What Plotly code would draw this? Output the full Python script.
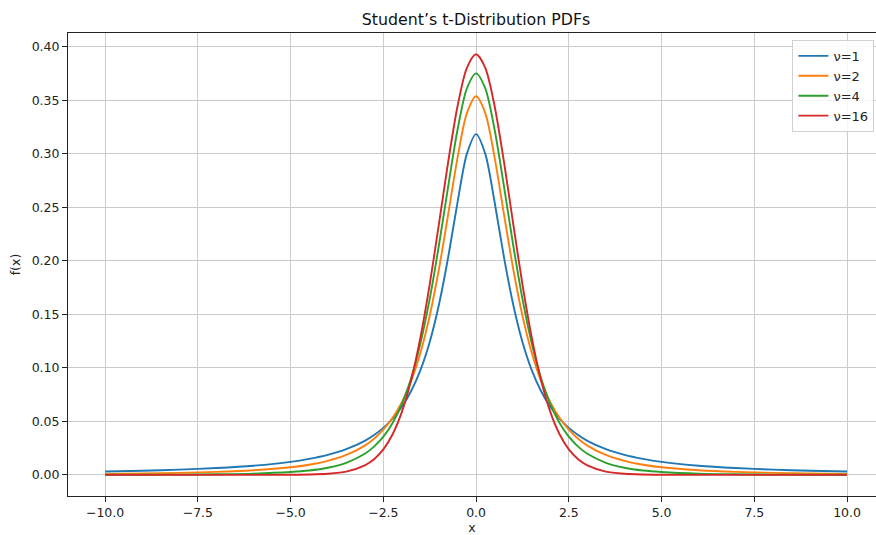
import plotly.graph_objects as go

x_vals = [-10, -9, -8, -7, -6, -5, -4.5, -4, -3.5, -3, -2.75, -2.5, -2.25, -2, -1.75, -1.5,
          -1.25, -1, -0.75, -0.5, -0.25, 0, 0.25, 0.5, 0.75, 1, 1.25, 1.5, 1.75, 2, 2.25,
          2.5, 2.75, 3, 3.5, 4, 4.5, 5, 6, 7, 8, 9, 10]

# one-sided values (x >= 0); mirrored for x < 0
half_nu1 = [0.3183, 0.2996, 0.2546, 0.2037, 0.1592, 0.1242, 0.0979, 0.0784, 0.0637, 0.0525,
            0.0439, 0.0372, 0.0318, 0.0240, 0.0187, 0.0150, 0.0122, 0.0086, 0.0064, 0.0049,
            0.0039, 0.0032]
half_nu2 = [0.3536, 0.3376, 0.2963, 0.2438, 0.1925, 0.1487, 0.1141, 0.0878, 0.0680, 0.0533,
            0.0422, 0.0338, 0.0274, 0.0186, 0.0131, 0.0095, 0.0071, 0.0043, 0.0028, 0.0019,
            0.0013, 0.0010]
half_nu4 = [0.3750, 0.3607, 0.3223, 0.2699, 0.2147, 0.1644, 0.1229, 0.0905, 0.0663, 0.0485,
            0.0357, 0.0264, 0.0197, 0.0113, 0.0067, 0.0041, 0.0027, 0.0012, 0.0006, 0.0003,
            0.0002, 0.0001]
half_nu16 = [0.3928, 0.3800, 0.3443, 0.2928, 0.2346, 0.1779, 0.1284, 0.0886, 0.0589, 0.0380,
             0.0238, 0.0146, 0.0089, 0.0031, 0.0011, 0.0004, 0.0001, 0.0000, 0.0000, 0.0000,
             0.0000, 0.0000]

series_names = ["ν=1", "ν=2", "ν=4", "ν=16"]
series_half = [half_nu1, half_nu2, half_nu4, half_nu16]
colors = ["#1f77b4", "#ff7f0e", "#2ca02c", "#d62728"]

x_ticks = [-10, -7.5, -5, -2.5, 0, 2.5, 5, 7.5, 10]

fig = go.Figure()
for name, half, c in zip(series_names, series_half, colors):
    y = list(reversed(half[1:])) + half
    fig.add_trace(go.Scatter(x=x_vals, y=y, mode="lines", name=name,
                             line=dict(color=c, width=1.9, shape="spline", smoothing=0.8)))

font = "DejaVu Sans, Arial, sans-serif"
fig.update_layout(
    width=876, height=535,
    margin=dict(l=68, r=0, t=33, b=39, autoexpand=False),
    paper_bgcolor="white", plot_bgcolor="white",
    font=dict(family=font, size=12.5, color="#222222"),
    title=dict(text="Student’s t-Distribution PDFs", x=476 / 876, xanchor="center",
               y=1 - 19 / 535, yanchor="middle", font=dict(size=15.8, color="#111111")),
    legend=dict(x=0.998, y=0.985, xanchor="right", yanchor="top",
                bgcolor="rgba(255,255,255,0.85)", bordercolor="#d0d0d0", borderwidth=1,
                font=dict(size=13), tracegroupgap=0, itemwidth=30),
    showlegend=True,
)
fig.update_xaxes(range=[-11, 10.78], tickvals=x_ticks, tickformat=".1f", automargin=False,
                 showgrid=True, gridcolor="#cbcbcb", gridwidth=1.2, zeroline=False,
                 showline=True, linecolor="#222222", linewidth=1, mirror=True,
                 ticks="outside", ticklen=5, tickcolor="#222222",
                 title=dict(text="x", standoff=5, font=dict(size=12.5)))
fig.update_yaxes(range=[-0.0197, 0.4127], dtick=0.05, tick0=0, tickformat=".2f", automargin=False,
                 showgrid=True, gridcolor="#cbcbcb", gridwidth=1.2, zeroline=False,
                 showline=True, linecolor="#222222", linewidth=1, mirror=False,
                 ticks="outside", ticklen=5, tickcolor="#222222",
                 title=dict(text="f(x)", standoff=8, font=dict(size=12.5)))

fig.write_html("out.html", config={"displayModeBar": False},
               post_script="document.body.style.margin='0px';document.body.style.padding='0px';")
